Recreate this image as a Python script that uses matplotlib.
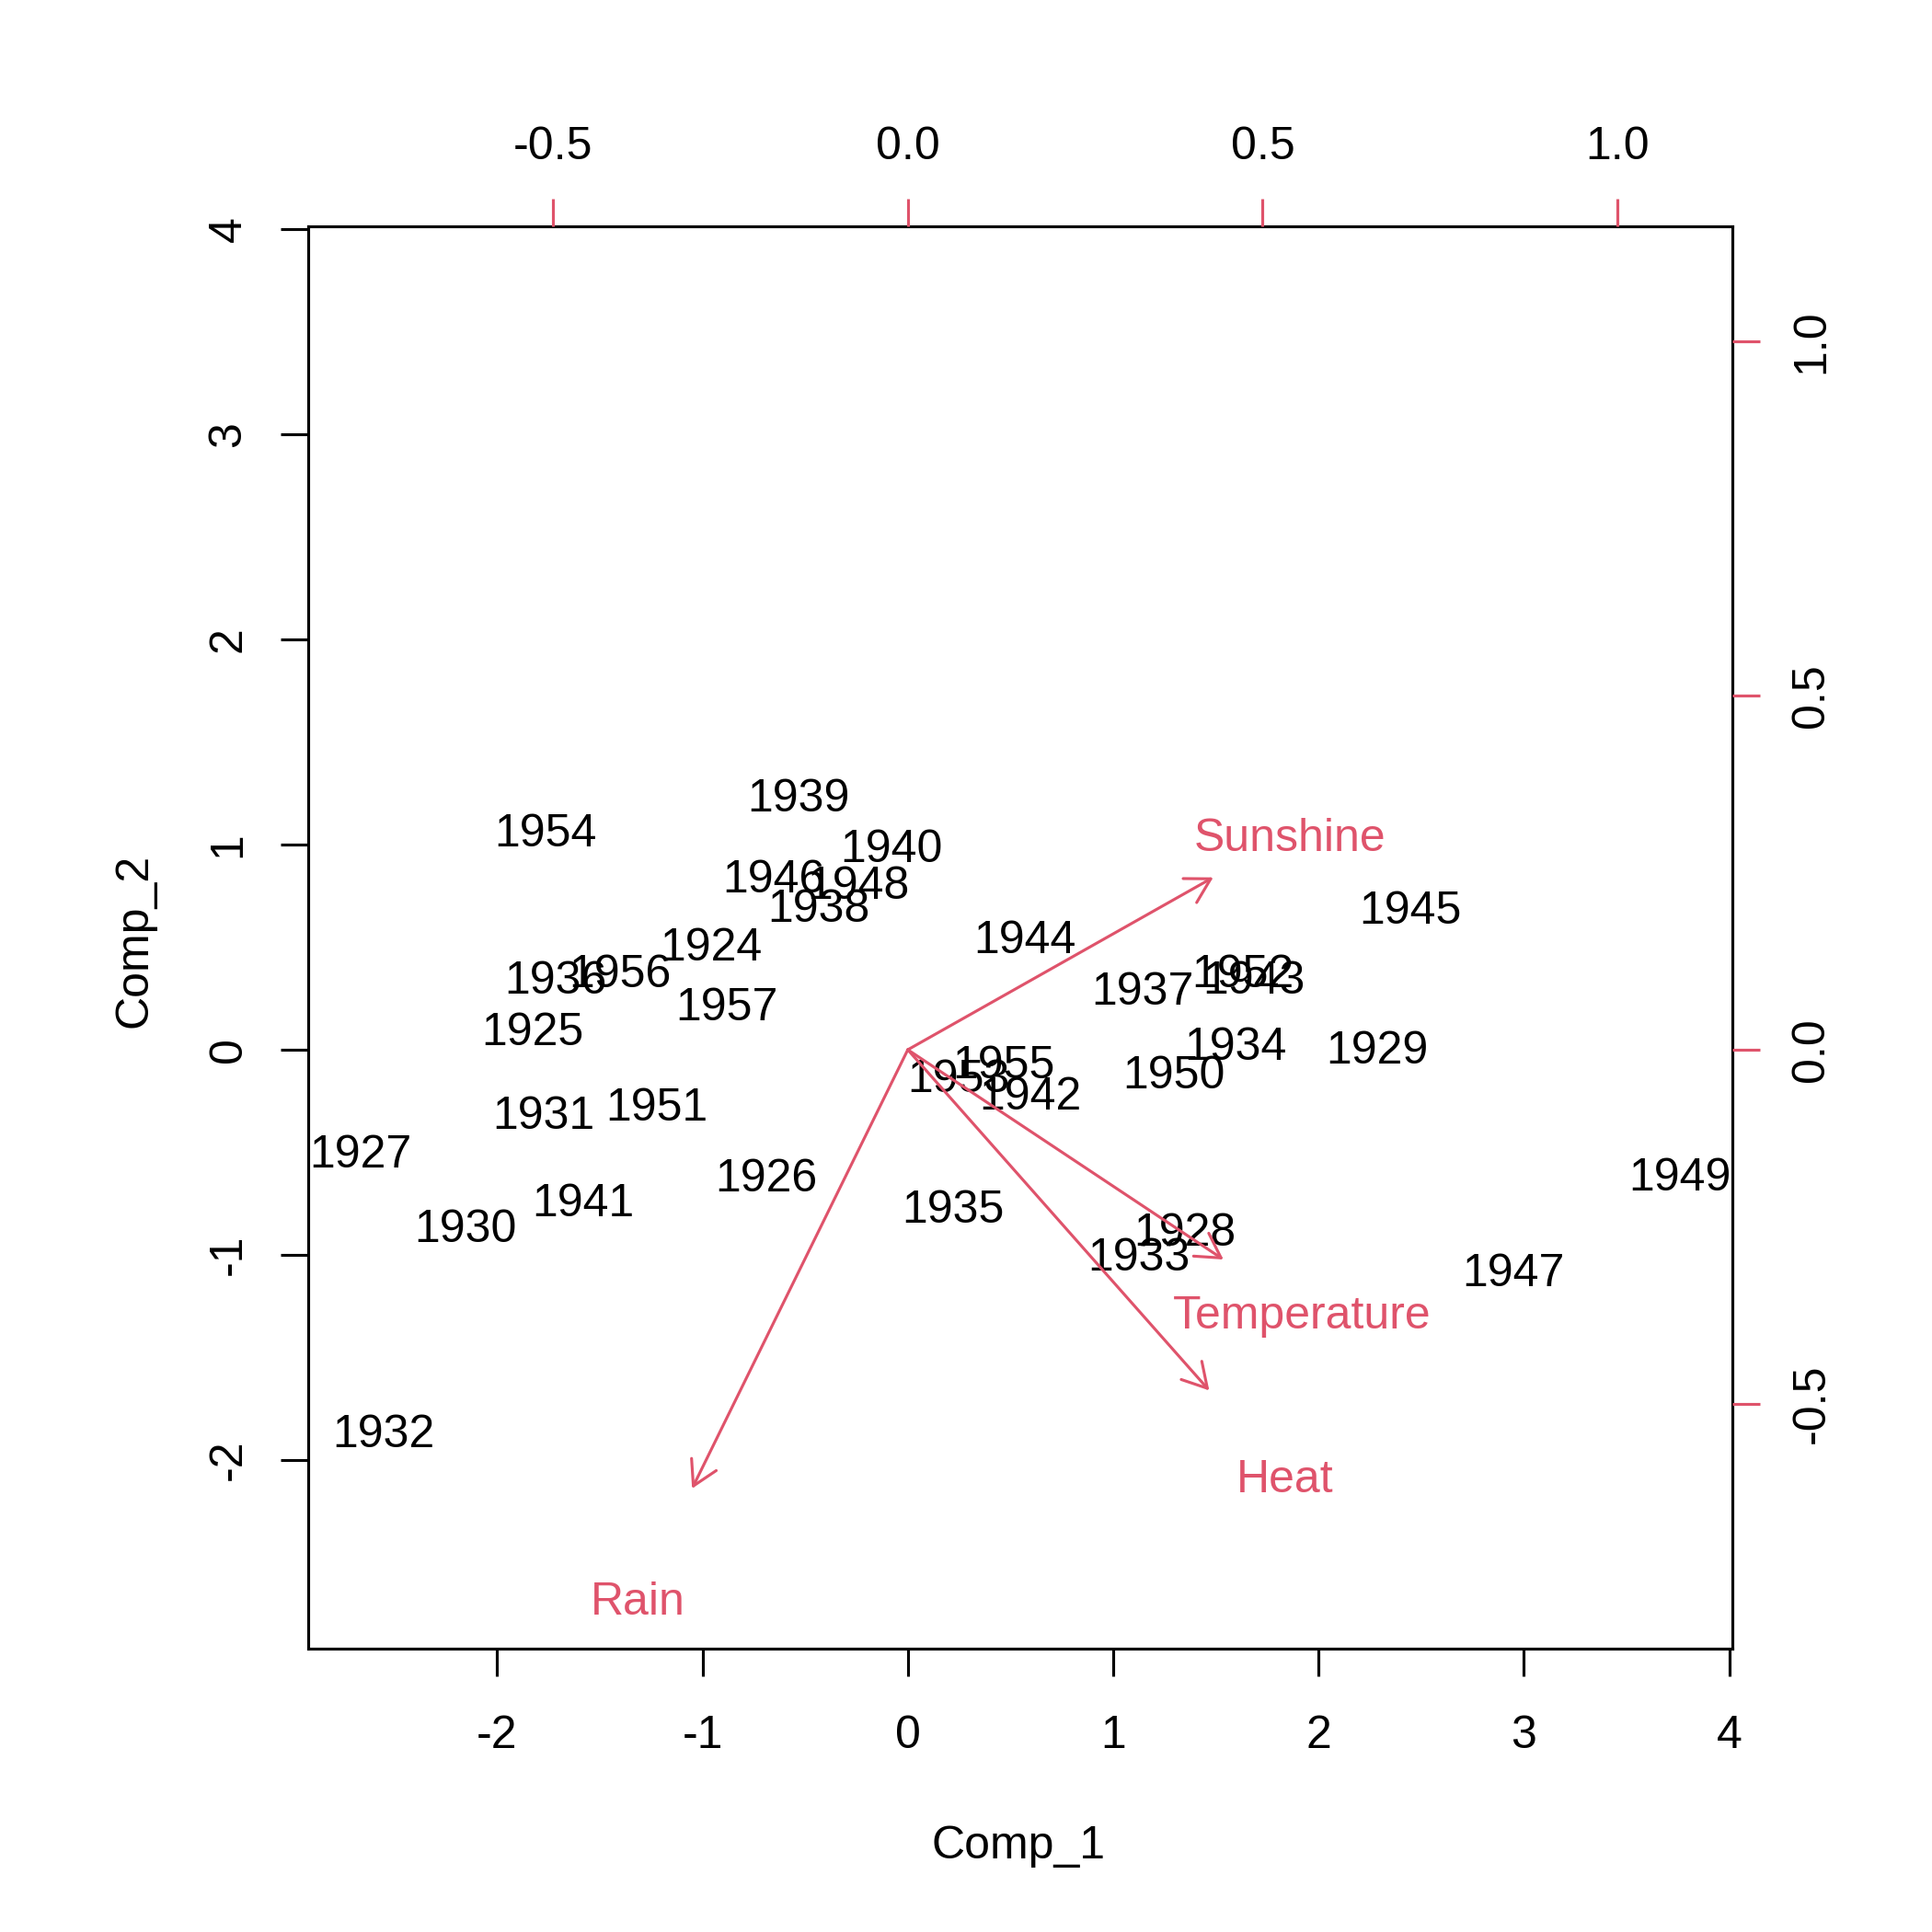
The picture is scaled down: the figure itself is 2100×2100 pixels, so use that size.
import matplotlib
matplotlib.use("Agg")
import matplotlib.pyplot as plt

plt.rcParams['font.family'] = ['Liberation Sans', 'DejaVu Sans']
plt.rcParams['axes.unicode_minus'] = False

# principal component scores (Comp_1, Comp_2) per year
years = ['1924', '1925', '1926', '1927', '1928', '1929', '1930', '1931', '1932',
         '1933', '1934', '1935', '1936', '1937', '1938', '1939', '1940', '1941',
         '1942', '1943', '1944', '1945', '1946', '1947', '1948', '1949', '1950',
         '1951', '1952', '1953', '1954', '1955', '1956', '1957']
comp1 = [-0.960, -1.829, -0.690, -2.663, 1.349, 2.285, -2.153, -1.775, -2.555,
         1.127, 1.595, 0.222, -1.715, 1.145, -0.432, -0.534, -0.078, -1.583,
         0.594, 1.685, 0.570, 2.447, -0.654, 2.950, -0.240, 3.760, 1.295,
         -1.223, 1.631, 0.246, -1.763, 0.468, -1.403, -0.882]
comp2 = [0.516, 0.102, -0.612, -0.492, -0.876, 0.012, -0.858, -0.306, -1.859,
         -0.996, 0.030, -0.762, 0.354, 0.300, 0.702, 1.241, 0.995, -0.732,
         -0.210, 0.354, 0.552, 0.696, 0.846, -1.073, 0.816, -0.606, -0.108,
         -0.264, 0.384, -0.126, 1.073, -0.060, 0.384, 0.222]

# variable loadings
variables = ['Heat', 'Rain', 'Sunshine', 'Temperature']
load1 = [0.531, -0.380, 0.538, 0.556]
load2 = [-0.601, -0.774, 0.304, -0.370]

red = '#DF536B'
fs = 12
lw = 0.75

fig = plt.figure(figsize=(7, 7), dpi=300)
pos = [0.1595, 0.1467, 0.7372, 0.7362]
ax = fig.add_axes(pos)
ax.set_xlim(-2.92, 4.015)
ax.set_ylim(-2.92, 4.015)
for x, y, t in zip(comp1, comp2, years):
    ax.text(x, y, t, ha='center', va='center_baseline', fontsize=fs)
ax.set_xticks(range(-2, 5))
ax.set_yticks(range(-2, 5))
ax.tick_params(direction='out', length=7.2, width=lw, pad=10, labelsize=fs)
ax.tick_params(axis='y', labelrotation=90, pad=8)
for lab in ax.get_yticklabels():
    lab.set_va('center')
for s in ax.spines.values():
    s.set_linewidth(lw)
ax.set_xlabel('Comp_1', fontsize=fs)
ax.set_ylabel('Comp_2', fontsize=fs)
ax.xaxis.set_label_coords(0.499, -0.124)
ax.yaxis.set_label_coords(-0.107, 0.498)

ax2 = fig.add_axes(pos, frameon=False)
ax2.set_xlim(-0.845, 1.162)
ax2.set_ylim(-0.845, 1.162)
ax2.xaxis.tick_top()
ax2.yaxis.tick_right()
ax2.set_xticks([-0.5, 0.0, 0.5, 1.0])
ax2.set_yticks([-0.5, 0.0, 0.5, 1.0])
ax2.tick_params(direction='out', length=7.2, width=lw, pad=8, labelsize=fs,
                color=red)
ax2.tick_params(axis='y', labelrotation=90, pad=8)
for lab in ax2.get_yticklabels():
    lab.set_va('center')
for x, y, t in zip(load1, load2, variables):
    ax2.annotate('', xy=(0.8 * x, 0.8 * y), xytext=(0, 0),
                 arrowprops=dict(arrowstyle='->,head_length=0.4,head_width=0.23',
                                 color=red, lw=lw, mutation_scale=15.6,
                                 shrinkA=0, shrinkB=0))
    ax2.text(x, y, t, ha='center', va='center_baseline', fontsize=fs, color=red)

fig.savefig('out.png', dpi=300)
